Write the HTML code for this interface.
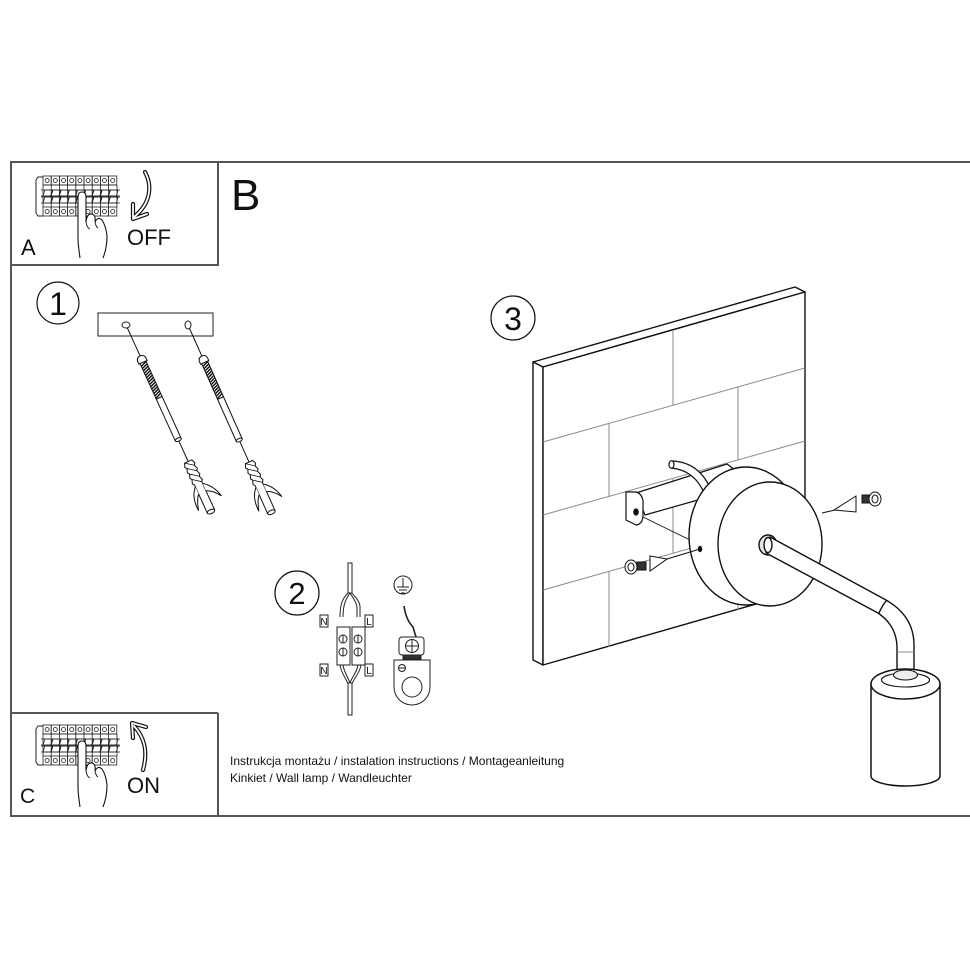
<!DOCTYPE html>
<html><head><meta charset="utf-8"><style>
html,body{margin:0;padding:0;background:#fff;}
svg{display:block;}
text{font-family:"Liberation Sans",Arial,sans-serif;fill:#111;}
</style></head><body>
<svg width="970" height="971" viewBox="0 0 970 971" xmlns="http://www.w3.org/2000/svg">
<defs>
<g id="mod" fill="none" stroke="#222" stroke-width="0.8">
  <rect x="0" y="0" width="8.2" height="9"/>
  <circle cx="4.1" cy="4.5" r="2"/>
  <line x1="0" y1="9" x2="0" y2="31"/>
  <polygon points="1.8,14 9.5,14 7.7,20 0,20"/>
  <polygon points="1.8,21 9.5,21 7.7,27 0,27"/>
  <rect x="0" y="31" width="8.2" height="9"/>
  <circle cx="4.1" cy="35.5" r="2"/>
</g>
<g id="panel">
  <path d="M8,1 L3,1 L1,4 L1,37 L3,40 L8,40" fill="none" stroke="#222" stroke-width="1"/>
  <use href="#mod" x="8"/><use href="#mod" x="16.2"/><use href="#mod" x="24.4"/>
  <use href="#mod" x="32.6"/><use href="#mod" x="40.8"/><use href="#mod" x="49"/>
  <use href="#mod" x="57.2"/><use href="#mod" x="65.4"/><use href="#mod" x="73.6"/>
  <g stroke="#222" stroke-width="0.8">
    <line x1="8" y1="9" x2="82" y2="9"/>
    <line x1="82" y1="9" x2="82" y2="31"/>
    <line x1="6" y1="14" x2="85" y2="14"/>
    <line x1="6" y1="20" x2="85" y2="20"/>
    <line x1="6" y1="21" x2="85" y2="21"/>
    <line x1="6" y1="27" x2="85" y2="27"/>
  </g>
  <path d="M45,82 C44,74 43,69 43,62 L43,21 Q43,16 47,16 Q51,16 51,21 L51,46 Q52,37 57,38 Q61,39 60,46 Q63,40 67,44 Q71,50 72,60 Q72,72 68,82" fill="#fff" stroke="#111" stroke-width="1.1"/>
  <path d="M51,46 Q52,52 55,53 M60,46 Q61,51 63,52" fill="none" stroke="#111" stroke-width="0.9"/>
</g>
<g id="screw" stroke="#111" stroke-width="1" fill="#fff">
  <line x1="0" y1="3" x2="0" y2="35"/>
  <path d="M-4.5,39 Q-4.5,34 0,34 Q4.5,34 4.5,39 L4.5,41 L-4.5,41 Z"/>
  <rect x="-3.2" y="41" width="6.4" height="39"/>
  <path d="M-3.2,44 L3.2,41.5 M-3.2,46.5 L3.2,44 M-3.2,49 L3.2,46.5 M-3.2,51.5 L3.2,49 M-3.2,54 L3.2,51.5 M-3.2,56.5 L3.2,54 M-3.2,59 L3.2,56.5 M-3.2,61.5 L3.2,59 M-3.2,64 L3.2,61.5 M-3.2,66.5 L3.2,64 M-3.2,69 L3.2,66.5 M-3.2,71.5 L3.2,69 M-3.2,74 L3.2,71.5 M-3.2,76.5 L3.2,74 M-3.2,79 L3.2,76.5" stroke-width="1.4"/>
  <rect x="-3.2" y="80" width="6.4" height="46"/>
  <ellipse cx="0" cy="126" rx="3.2" ry="1.6"/>
  <line x1="0" y1="128" x2="0" y2="150"/>
  <path d="M-4,150 L4,150 L5.5,154 L4,156 L5.5,160 L4,162 L5.5,166 L4,168 L5.5,172 L4,174 L4,205 L-4,205 L-4,174 L-5.5,172 L-4,168 L-5.5,166 L-4,162 L-5.5,160 L-4,156 L-5.5,154 Z"/>
  <path d="M-4,150 L4,156 M-4,156 L4,162 M-4,162 L4,168 M-4,168 L4,174" fill="none" stroke-width="0.8"/>
  <path d="M-4,176 Q-12,184 -11,199 Q-8,188 -4,184" fill="#fff"/>
  <path d="M4,176 Q13,182 16,195 Q10,186 4,184" fill="#fff"/>
  <ellipse cx="0" cy="205" rx="4" ry="2"/>
</g>
</defs>

<!-- frame -->
<g stroke="#555" stroke-width="2" fill="none">
  <line x1="10" y1="162" x2="970" y2="162"/>
  <line x1="11" y1="162" x2="11" y2="816"/>
  <line x1="10" y1="816" x2="970" y2="816"/>
  <line x1="218" y1="162" x2="218" y2="266"/>
  <line x1="10" y1="265" x2="218" y2="265"/>
  <line x1="10" y1="713" x2="218" y2="713"/>
  <line x1="218" y1="713" x2="218" y2="816"/>
</g>

<!-- Box A -->
<use href="#panel" x="35" y="176"/>
<g fill="none" stroke-linecap="round" stroke-linejoin="round">
  <path d="M145,172 C153,187 150,204 134,217 M133,204 L133,219 L147,214" stroke="#111" stroke-width="4.2"/>
  <path d="M145,172 C153,187 150,204 134,217 M133,204 L133,219 L147,214" stroke="#fff" stroke-width="1.8"/>
</g>
<text x="127" y="245" font-size="22">OFF</text>
<text x="21" y="255" font-size="22">A</text>
<text x="231" y="210" font-size="44">B</text>

<!-- Box C -->
<use href="#panel" x="35" y="725"/>
<g fill="none" stroke-linecap="round" stroke-linejoin="round">
  <path d="M143,770 C148,752 145,738 134,726 M133,738 L132,723 L146,727" stroke="#111" stroke-width="4.2"/>
  <path d="M143,770 C148,752 145,738 134,726 M133,738 L132,723 L146,727" stroke="#fff" stroke-width="1.8"/>
</g>
<text x="127" y="793" font-size="22">ON</text>
<text x="20" y="803" font-size="21">C</text>
<text x="230" y="765" font-size="12" fill="#222">Instrukcja montażu / instalation instructions / Montageanleitung</text>
<text x="230" y="782" font-size="12" fill="#222">Kinkiet / Wall lamp / Wandleuchter</text>

<!-- Step 1 -->
<circle cx="58" cy="303" r="21" fill="none" stroke="#111" stroke-width="1.2"/>
<text x="58" y="315" font-size="32" text-anchor="middle">1</text>
<rect x="98" y="313" width="115" height="23" fill="#fff" stroke="#222" stroke-width="1"/>
<ellipse cx="126" cy="325" rx="4" ry="3" fill="none" stroke="#222" stroke-width="1"/>
<ellipse cx="188" cy="325" rx="3" ry="4" fill="none" stroke="#222" stroke-width="1"/>
<use href="#screw" transform="translate(126,325) rotate(-24.5)"/>
<use href="#screw" transform="translate(188,325) rotate(-24)"/>

<!-- Step 2 -->
<circle cx="297" cy="593" r="22" fill="none" stroke="#111" stroke-width="1.2"/>
<text x="297" y="604" font-size="31" text-anchor="middle">2</text>
<g stroke="#222" stroke-width="1" fill="#fff">
  <rect x="348" y="563" width="4" height="30"/>
  <path d="M348,593 C343,598 340,603 340,617 M350,593 C346,599 343,604 343,617" fill="none"/>
  <path d="M352,593 C355,597 359,600 360,606 L360,617 M350,593 C353,598 356,601 357,607 L357,617" fill="none"/>
  <rect x="320" y="615" width="8" height="12"/>
  <rect x="365" y="615" width="8" height="12"/>
  <rect x="320" y="664" width="8" height="12"/>
  <rect x="365" y="664" width="8" height="12"/>
  <rect x="337" y="627" width="13" height="38"/>
  <rect x="352" y="627" width="13" height="38"/>
  <circle cx="343" cy="639" r="4"/><circle cx="358" cy="639" r="4"/>
  <circle cx="343" cy="652" r="4"/><circle cx="358" cy="652" r="4"/>
  <path d="M343,635.5 V642.5 M358,635.5 V642.5 M343,648.5 V655.5 M358,648.5 V655.5" fill="none"/>
  <path d="M340,665 C341,673 346,678 348,684 M343,665 C344,672 348,677 350,683 M361,665 C360,673 354,678 352,684 M358,665 C357,672 352,677 350,683" fill="none"/>
  <rect x="348" y="683" width="4" height="32"/>
</g>
<g font-size="10" text-anchor="middle">
  <text x="324" y="625">N</text><text x="369" y="625">L</text>
  <text x="324" y="674">N</text><text x="369" y="674">L</text>
</g>
<g stroke="#222" stroke-width="1" fill="#fff">
  <circle cx="403" cy="585" r="9"/>
  <path d="M403,578 V587 M397,587 H409 M399,590 H407 M401,593 H405" fill="none"/>
  <path d="M404,606 Q406,620 413,627 L416,637" fill="none" stroke-width="1.6"/>
  <path d="M394,660 L430,660 L430,687 A18,18 0 0 1 394,687 Z"/>
  <circle cx="412" cy="687" r="10"/>
  <circle cx="402" cy="668" r="3.5"/>
  <path d="M399,668 H405" fill="none"/>
  <rect x="403" y="652" width="18" height="7" fill="#333"/>
  <rect x="399" y="637" width="25" height="18" rx="3"/>
  <circle cx="412" cy="646" r="6.5"/>
  <path d="M405.5,646 H418.5 M412,639.5 V652.5" fill="none"/>
</g>

<!-- Step 3 -->
<circle cx="513" cy="318" r="22" fill="none" stroke="#111" stroke-width="1.2"/>
<text x="513" y="330" font-size="32" text-anchor="middle">3</text>
<g stroke="#111" stroke-width="1.4" fill="#fff" stroke-linejoin="round">
  <polygon points="533,362 795,287 805,292 543,367"/>
  <polygon points="533,362 543,367 543,665 533,660"/>
  <polygon points="543,367 805,292 805,590 543,665"/>
</g>
<g stroke="#8a8a8a" stroke-width="1">
  <line x1="543" y1="442" x2="805" y2="368"/>
  <line x1="543" y1="515" x2="805" y2="441"/>
  <line x1="543" y1="590" x2="805" y2="516"/>
  <line x1="673" y1="331" x2="673" y2="405"/>
  <line x1="609" y1="424" x2="609" y2="497"/>
  <line x1="738" y1="387" x2="738" y2="460"/>
  <line x1="673" y1="479" x2="673" y2="553"/>
  <line x1="609" y1="572" x2="609" y2="647"/>
  <line x1="738" y1="535" x2="738" y2="610"/>
</g>
<!-- bracket and wire -->
<g stroke="#111" stroke-width="1.2" fill="#fff" stroke-linejoin="round">
  <polygon points="636,493 727,464 735,470 735,490 705,498 645,515"/>
  <path d="M626,492 L626,520 L636,525 Q643,524 643,515 L643,500 Q641,493 636,492 Z"/>
  <ellipse cx="636" cy="512" rx="2.2" ry="3" fill="#111"/>
  <path d="M672,461 Q700,462 712,492 L705,495 Q695,470 671,468 Z"/>
  <ellipse cx="671.5" cy="464.5" rx="2.5" ry="3.8"/>
  <line x1="643" y1="517" x2="690" y2="540" stroke-width="0.9"/>
</g>
<!-- canopy -->
<g stroke="#111" stroke-width="1.4" fill="#fff">
  <ellipse cx="746" cy="536" rx="57" ry="69"/>
  <ellipse cx="770" cy="544" rx="52" ry="62"/>
  <ellipse cx="700" cy="549" rx="1.5" ry="2.5" fill="#111"/>
</g>
<!-- screws -->
<g stroke="#111" stroke-width="1" fill="#fff">
  <line x1="667" y1="559" x2="700" y2="549"/>
  <path d="M650,556 L650,571 L667,559 Z"/>
  <rect x="637" y="562" width="9" height="8" fill="#333"/>
  <ellipse cx="631" cy="567" rx="6" ry="7"/>
  <ellipse cx="631" cy="567" rx="3" ry="4" fill="none"/>
  <line x1="822" y1="513" x2="835" y2="510"/>
  <path d="M856,496 L856,512 L834,510 Z"/>
  <rect x="862" y="495" width="8" height="8" fill="#333"/>
  <ellipse cx="875" cy="499" rx="6" ry="7"/>
  <ellipse cx="875" cy="499" rx="3" ry="4" fill="none"/>
</g>
<!-- arm -->
<g stroke="#111" stroke-width="1.4" fill="#fff" stroke-linejoin="round">
  <ellipse cx="768" cy="545" rx="9" ry="10" fill="#e6e6e6"/>
  <path d="M770,537 L886,600 Q914,616 914,645 L914,673 L897,673 L897,648 Q897,626 878,613 L766,553 Z"/>
  <ellipse cx="768" cy="545" rx="4" ry="7.5"/>
  <path d="M879,613 Q883,604 887,600" fill="none"/>
  <line x1="897" y1="652" x2="914" y2="652" stroke="#888" stroke-width="1"/>
</g>
<!-- lamp holder -->
<g stroke="#111" stroke-width="1.5" fill="#fff">
  <path d="M871,684 L871,776 A34.5,10 0 0 0 940,776 L940,684 Z"/>
  <ellipse cx="905.5" cy="684" rx="34.5" ry="15"/>
  <ellipse cx="905.5" cy="680" rx="24" ry="7" stroke-width="1.1"/>
  <ellipse cx="905.5" cy="675" rx="12" ry="5" stroke-width="1.1" fill="#eee"/>
</g>
</svg>
</body></html>
